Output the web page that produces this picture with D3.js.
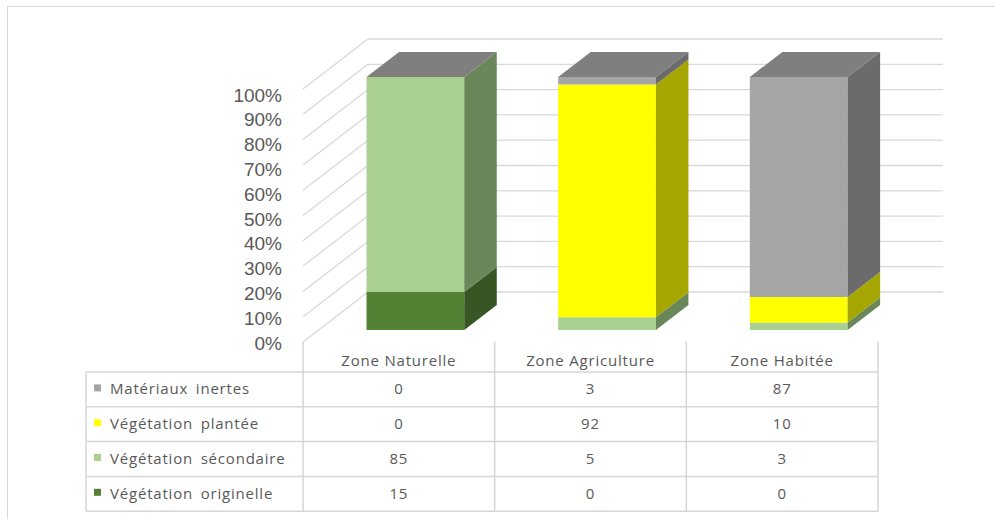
<!DOCTYPE html>
<html>
<head>
<meta charset="utf-8">
<script src="https://cdn.jsdelivr.net/npm/d3@7"></script>
<style>
  body { margin: 0; background: #fff; }
  svg { display: block; }
</style>
</head>
<body>
<div id="content"></div>
<script>
// data
var categories = ["Zone Naturelle", "Zone Agriculture", "Zone Habitée"];
var seriesKeys = ["originelle", "secondaire", "plantee", "inertes"];
var seriesNames = ["Végétation originelle", "Végétation sécondaire", "Végétation plantée", "Matériaux inertes"];
var originelle = [15, 0, 0];
var secondaire = [85, 5, 3];
var plantee = [0, 92, 10];
var inertes = [0, 3, 87];
var yTicks = [0, 10, 20, 30, 40, 50, 60, 70, 80, 90, 100];

// colours per series: front, side
var frontColor = ["#548235", "#a9d08e", "#ffff00", "#a5a5a5"];
var sideColor = ["#375623", "#6a8759", "#a6a600", "#6b6b6b"];
var topColor = "#7f7f7f";

var rows = categories.map(function(c, i) {
  return {cat: c, originelle: originelle[i], secondaire: secondaire[i], plantee: plantee[i], inertes: inertes[i]};
});
var stacked = d3.stack().keys(seriesKeys)(rows);

var svg = d3.select("#content").append("svg")
    .attr("width", 995)
    .attr("height", 519);

// outer frame
svg.append("rect")
    .attr("x", 7.5).attr("y", 6.5)
    .attr("width", 1100).attr("height", 600)
    .attr("fill", "none")
    .attr("stroke", "#d9d9d9");

var x = d3.scaleBand().domain(categories).range([303, 878]);
var y = d3.scaleLinear().domain([0, 100]).range([342, 89]);
var yLabel = d3.scaleLinear().domain([0, 100]).range([343, 95]);

// depth vector (full depth of the plot box)
var DX = 65, DY = -50;
var d0 = 0.24, d1 = 0.74;

var grid = svg.append("g");
yTicks.forEach(function(t) {
  // side wall
  grid.append("line")
    .attr("x1", x.range()[0]).attr("y1", y(t))
    .attr("x2", x.range()[0] + DX).attr("y2", y(t) + DY)
    .attr("stroke", "#d9d9d9").attr("stroke-width", 1.3);
  // back wall
  grid.append("line")
    .attr("x1", x.range()[0] + DX).attr("y1", y(t) + DY)
    .attr("x2", x.range()[1] + DX).attr("y2", y(t) + DY)
    .attr("stroke", "#d9d9d9").attr("stroke-width", 1.3);
});

// y labels
svg.append("g").selectAll("text")
  .data(yTicks)
  .enter().append("text")
    .attr("x", 282)
    .attr("y", function(d) { return yLabel(d); })
    .attr("dy", "0.35em")
    .attr("text-anchor", "end")
    .style("font-family", "Liberation Sans, Arial, sans-serif")
    .style("font-size", "19px")
    .style("fill", "#595959")
    .text(function(d) { return d + "%"; });

// bars
function pt(px, v, d) {
  return [px + d * DX, y(v) + d * DY];
}
var bw = x.bandwidth() * 0.51;
var bars = svg.append("g");
categories.forEach(function(c, i) {
  var bx = x(c) + x.bandwidth() * 0.25;
  stacked.forEach(function(s, k) {
    var v0 = s[i][0], v1 = s[i][1];
    if (v1 - v0 <= 0) return;
    var a = pt(bx, v0, d0), b = pt(bx + bw, v0, d0),
        cc = pt(bx + bw, v1, d0), e = pt(bx, v1, d0);
    bars.append("path")
      .attr("d", "M" + [a, b, cc, e].join("L") + "Z")
      .attr("fill", frontColor[k]);
    var sa = pt(bx + bw, v0, d0), sb = pt(bx + bw, v0, d1),
        sc = pt(bx + bw, v1, d1), sd = pt(bx + bw, v1, d0);
    bars.append("path")
      .attr("d", "M" + [sa, sb, sc, sd].join("L") + "Z")
      .attr("fill", sideColor[k]);
  });
  var top = d3.max(stacked, function(s) { return s[i][1]; });
  var t1 = pt(bx, top, d0), t2 = pt(bx + bw, top, d0),
      t3 = pt(bx + bw, top, d1), t4 = pt(bx, top, d1);
  bars.append("path")
    .attr("d", "M" + [t1, t2, t3, t4].join("L") + "Z")
    .attr("fill", topColor);
});

// data table
var tableLeft = 86, headTop = 342, headBottom = 372, rowH = 34.8;
var tableRows = [3, 2, 1, 0]; // series index, top to bottom
var valuesBySeries = [originelle, secondaire, plantee, inertes];
var tbl = svg.append("g")
    .style("font-family", "Open Sans, sans-serif")
    .style("font-size", "15px")
    .style("letter-spacing", "0.8px")
    .style("fill", "#595959");
var lineColor = "#d6d6d6";
var tableBottom = headBottom + rowH * tableRows.length;

for (var r = 0; r <= tableRows.length; r++) {
  tbl.append("line")
    .attr("x1", tableLeft).attr("x2", x.range()[1])
    .attr("y1", headBottom + r * rowH).attr("y2", headBottom + r * rowH)
    .attr("stroke", lineColor).attr("stroke-width", 1.5);
}
tbl.append("line")
  .attr("x1", tableLeft).attr("x2", tableLeft)
  .attr("y1", headBottom).attr("y2", tableBottom)
  .attr("stroke", lineColor).attr("stroke-width", 1.5);
categories.concat([null]).forEach(function(c, i) {
  var xx = c ? x(c) : x.range()[1];
  tbl.append("line")
    .attr("x1", xx).attr("x2", xx)
    .attr("y1", headTop).attr("y2", tableBottom)
    .attr("stroke", lineColor).attr("stroke-width", 1.5);
});

// header
categories.forEach(function(c) {
  tbl.append("text")
    .attr("x", x(c) + x.bandwidth() / 2)
    .attr("y", headBottom - 6)
    .attr("text-anchor", "middle")
    .text(c);
});

tableRows.forEach(function(k, r) {
  var cy = headBottom + r * rowH + rowH / 2;
  tbl.append("rect")
    .attr("x", 94).attr("y", cy - 5)
    .attr("width", 7).attr("height", 7)
    .attr("fill", frontColor[k]);
  tbl.append("text")
    .attr("x", 110).attr("y", cy + 5)
    .style("word-spacing", "3px")
    .text(seriesNames[k]);
  categories.forEach(function(c, i) {
    tbl.append("text")
      .attr("x", x(c) + x.bandwidth() / 2)
      .attr("y", cy + 5)
      .attr("text-anchor", "middle")
      .text(valuesBySeries[k][i]);
  });
});
</script>
</body>
</html>
